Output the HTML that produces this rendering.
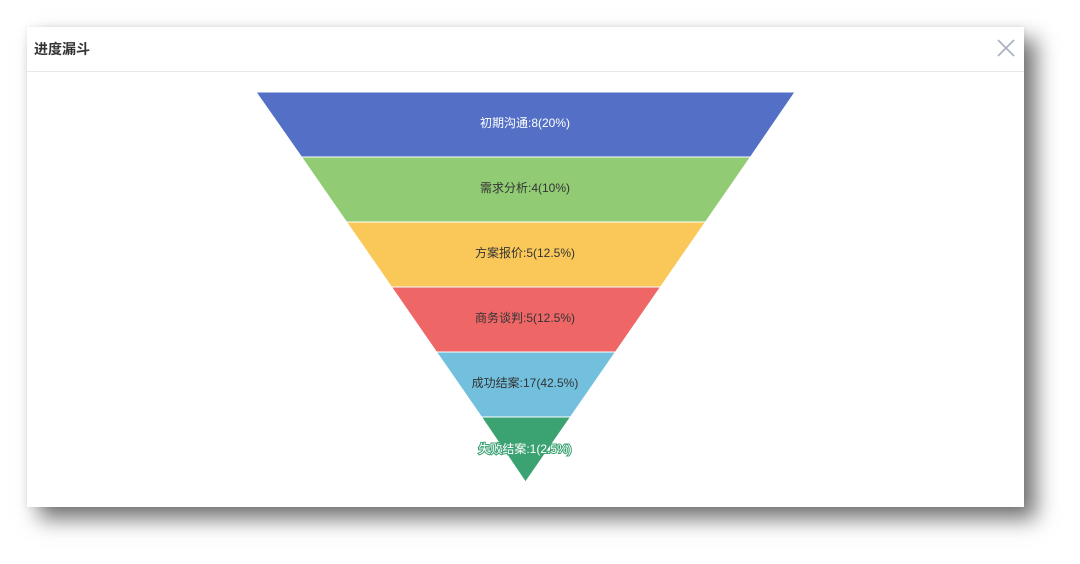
<!DOCTYPE html>
<html><head><meta charset="utf-8"><style>
body{margin:0;width:1080px;height:564px;background:#fff;overflow:hidden;font-family:"Liberation Sans","Noto Sans CJK SC",sans-serif;}
.card{position:absolute;left:27px;top:27px;width:997px;height:480px;background:#fff;box-shadow:12px 12px 20px rgba(0,0,0,0.55),0 0 6px rgba(0,0,0,0.08);}
.hd{position:absolute;left:0;top:0;width:997px;height:44px;border-bottom:1px solid #e8e8e8;}
.t{position:absolute;left:7px;top:12px;font-size:14px;font-weight:bold;color:#333;}
</style></head><body>
<div class="card"><div class="hd"><div class="t">进度漏斗</div>
<svg style="position:absolute;left:968px;top:10px" width="22" height="22"><path d="M3 3L19 19M19 3L3 19" stroke="#a8b0bf" stroke-width="1.6"/></svg></div></div>
<svg style="position:absolute;left:0;top:0" width="1080" height="564" font-family="Liberation Sans,Noto Sans CJK SC,sans-serif" font-size="12" text-anchor="middle">
<g stroke="#fff" stroke-width="1">
<polygon points="256,92 795,92 750.5,157 301.5,157" fill="#5470c6"/>
<polygon points="301.5,157 750.5,157 705.5,222 346.5,222" fill="#91cc75"/>
<polygon points="346.5,222 705.5,222 660.5,287 391.5,287" fill="#fac858"/>
<polygon points="391.5,287 660.5,287 615.5,352 436.5,352" fill="#ee6666"/>
<polygon points="436.5,352 615.5,352 570.5,417 481.5,417" fill="#73c0de"/>
<polygon points="481.5,417 570.5,417 525.5,482" fill="#3ba272"/>
</g>
<text x="525" y="127" fill="#fff">初期沟通:8(20%)</text>
<text x="525" y="192" fill="#333">需求分析:4(10%)</text>
<text x="525" y="257" fill="#333">方案报价:5(12.5%)</text>
<text x="525" y="322" fill="#333">商务谈判:5(12.5%)</text>
<text x="525" y="387" fill="#333">成功结案:17(42.5%)</text>
<text x="525" y="453" fill="#fff" stroke="#3ba272" stroke-width="2" paint-order="stroke">失败结案:1(2.5%)</text>
</svg>
</body></html>
